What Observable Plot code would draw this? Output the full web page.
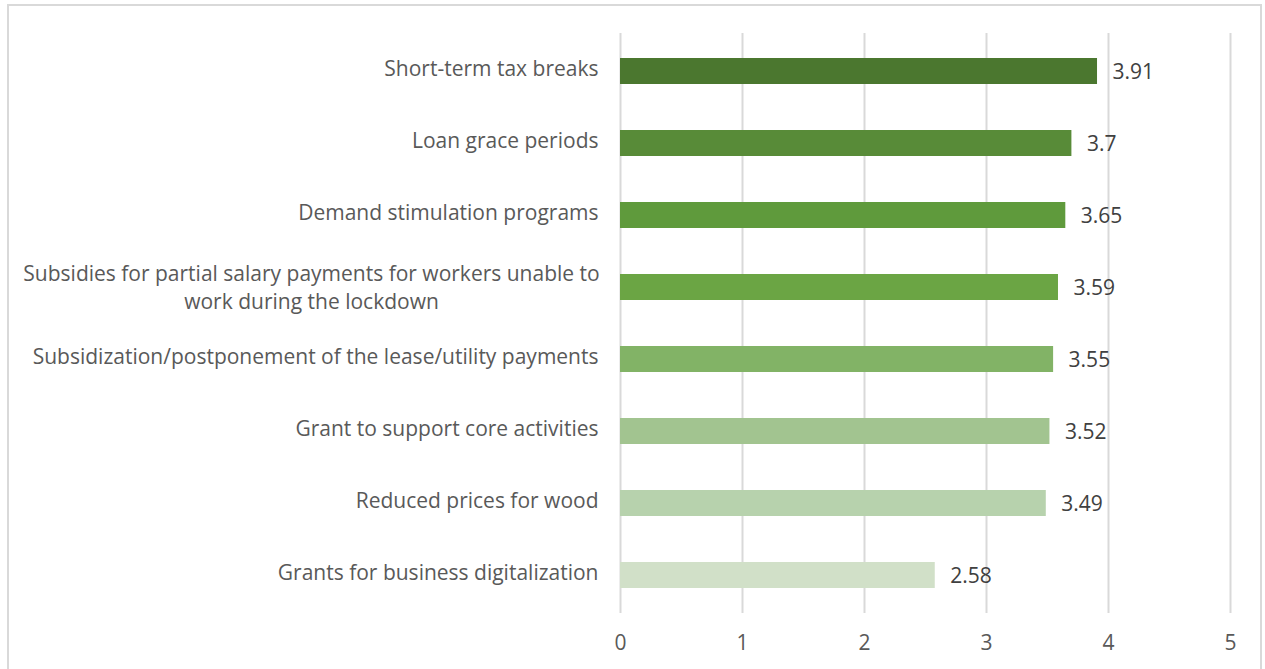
<!DOCTYPE html>
<html>
<head>
<meta charset="utf-8">
<script src="https://cdn.jsdelivr.net/npm/d3@7"></script>
<script src="https://cdn.jsdelivr.net/npm/@observablehq/plot@0.6"></script>
<style>
  html, body { margin: 0; padding: 0; background: #fff; }
  #wrap { position: relative; width: 1265px; height: 669px; overflow: hidden; }
  #border { position: absolute; left: 7px; top: 4px; width: 1255px; height: 700px; border: 2px solid #d9d9d9; box-sizing: border-box; }
  #chart { position: absolute; left: 0; top: 0; }
  svg { font-family: "Open Sans", sans-serif; }
</style>
</head>
<body>
<div id="wrap"><div id="border"></div><div id="chart"></div></div>
<script>
const categories = [
  "Short-term tax breaks",
  "Loan grace periods",
  "Demand stimulation programs",
  "Subsidies for partial salary payments for workers unable to\nwork during the lockdown",
  "Subsidization/postponement of the lease/utility payments",
  "Grant to support core activities",
  "Reduced prices for wood",
  "Grants for business digitalization"
];
const values = [3.91, 3.7, 3.65, 3.59, 3.55, 3.52, 3.49, 2.58];
const colors = ["#4b772f", "#588b38", "#5f9a3c", "#6ba544", "#82b366", "#a2c490", "#b7d2ad", "#d1e0c8"];
const xTicks = [0, 1, 2, 3, 4, 5];

const data = categories.map((c, i) => ({category: c, value: values[i], color: colors[i]}));
const multi = data.filter(d => d.category.includes("\n"));
const single = data.filter(d => !d.category.includes("\n"));
const FS = 21;

const chart = Plot.plot({
  width: 1265,
  height: 669,
  marginLeft: 620,
  marginRight: 35,
  marginTop: 33,
  marginBottom: 56,
  style: {fontFamily: "'Open Sans', sans-serif", fontSize: FS + "px", background: "transparent"},
  x: {domain: [0, 5], ticks: xTicks, label: null},
  y: {domain: categories, paddingInner: 0.64, paddingOuter: 0.32, axis: null, label: null},
  marks: [
    Plot.ruleX(xTicks, {stroke: "#d9d9d9", strokeWidth: 2}),
    Plot.barX(data, {y: "category", x: "value", fill: "color"}),
    Plot.axisX({ticks: xTicks, tickFormat: d3.format("d"), tickSize: 0, tickPadding: 22, fill: "#595959", fontSize: FS, label: null}),
    Plot.text(single, {x: 0, y: "category", text: "category", textAnchor: "end", dx: -22, dy: -2, fill: "#595959", fontSize: FS}),
    Plot.text(multi, {x: 0, y: "category", text: "category", textAnchor: "middle", dx: -309, dy: -1, fill: "#595959", fontSize: FS, lineHeight: 1.33}),
    Plot.text(data, {x: "value", y: "category", text: d => String(d.value), textAnchor: "start", dx: 15, dy: 1, fill: "#404040", fontSize: FS})
  ]
});
document.getElementById("chart").appendChild(chart);
</script>
</body>
</html>
